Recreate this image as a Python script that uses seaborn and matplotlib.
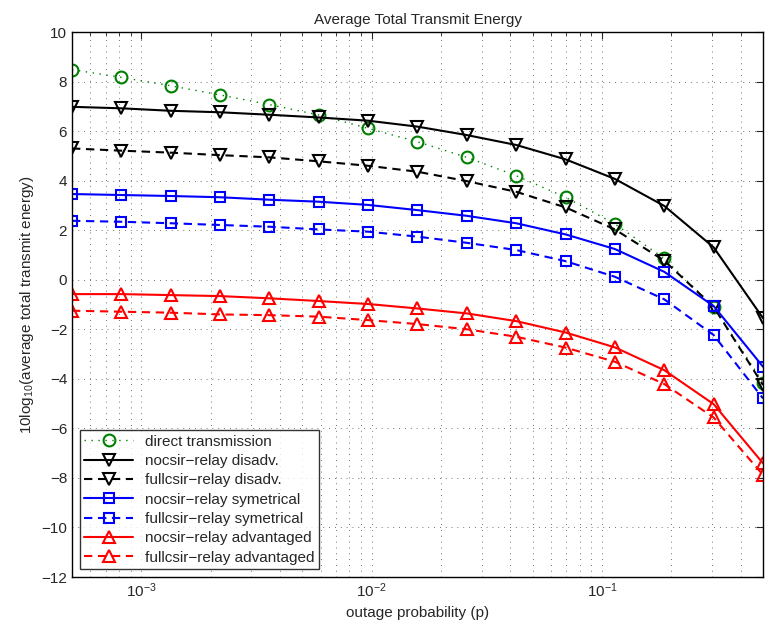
import numpy as np
import pandas as pd
import matplotlib
matplotlib.use("Agg")
import matplotlib.pyplot as plt
import seaborn as sns
from matplotlib.ticker import LogLocator, MultipleLocator, NullFormatter

# outage probabilities (x axis)
p = [0.0005, 0.000819, 0.001341, 0.002197, 0.003598, 0.005893, 0.009652,
     0.015808, 0.02589, 0.04240, 0.06945, 0.11374, 0.18628, 0.30509, 0.5]

# 10log10(average total transmit energy)
direct = [8.48, 8.17, 7.83, 7.46, 7.07, 6.65, 6.11, 5.57, 4.94, 4.20, 3.33, 2.25, 0.86, -1.09, -4.15]
nocsir_dis = [6.98, 6.92, 6.82, 6.76, 6.66, 6.55, 6.42, 6.18, 5.84, 5.44, 4.86, 4.07, 2.98, 1.31, -1.55]
fullcsir_dis = [5.30, 5.21, 5.13, 5.03, 4.94, 4.78, 4.60, 4.36, 3.98, 3.55, 2.92, 2.03, 0.77, -1.09, -4.25]
nocsir_sym = [3.46, 3.42, 3.38, 3.33, 3.23, 3.15, 3.02, 2.81, 2.58, 2.28, 1.83, 1.24, 0.32, -1.06, -3.51]
fullcsir_sym = [2.38, 2.34, 2.28, 2.21, 2.14, 2.03, 1.94, 1.74, 1.49, 1.20, 0.75, 0.12, -0.79, -2.23, -4.79]
nocsir_adv = [-0.58, -0.58, -0.62, -0.66, -0.75, -0.86, -0.98, -1.16, -1.36, -1.67, -2.13, -2.73, -3.65, -5.02, -7.41]
fullcsir_adv = [-1.25, -1.29, -1.33, -1.40, -1.43, -1.49, -1.63, -1.79, -2.00, -2.30, -2.74, -3.31, -4.21, -5.56, -7.88]

dotted = (0, (1, 4))
dashed = (0, (4, 2.7))
series = [
    ("direct transmission", direct, "#008000", dotted, 1.0, "o", 8.5),
    ("nocsir\u2212relay disadv.", nocsir_dis, "black", "-", 1.5, "v", 9),
    ("fullcsir\u2212relay disadv.", fullcsir_dis, "black", dashed, 1.5, "v", 9),
    ("nocsir\u2212relay symetrical", nocsir_sym, "blue", "-", 1.5, "s", 7),
    ("fullcsir\u2212relay symetrical", fullcsir_sym, "blue", dashed, 1.5, "s", 7),
    ("nocsir\u2212relay advantaged", nocsir_adv, "red", "-", 1.5, "^", 9),
    ("fullcsir\u2212relay advantaged", fullcsir_adv, "red", dashed, 1.5, "^", 9),
]

sns.set_style("white")
plt.rcParams["font.family"] = ["Liberation Sans", "DejaVu Sans"]
plt.rcParams["mathtext.fontset"] = "custom"
plt.rcParams["mathtext.rm"] = "Liberation Sans"
plt.rcParams["mathtext.it"] = "Liberation Sans"

fig = plt.figure(figsize=(7.67, 6.24), dpi=100)
ax = fig.add_axes([0.0939, 0.0753, 0.9009, 0.8734])

for label, vals, color, ls, lw, mk, ms in series:
    df = pd.DataFrame({"p": p, "e": vals})
    sns.lineplot(data=df, x="p", y="e", ax=ax, color=color, linestyle=ls,
                 linewidth=lw, marker=mk, markersize=ms, markerfacecolor="none",
                 markeredgecolor=color, markeredgewidth=1.5, label=label)

ax.set_xscale("log")
ax.set_xlim(5e-4, 0.5)
ax.set_ylim(-12, 10)
ax.yaxis.set_major_locator(MultipleLocator(2))
ax.xaxis.set_major_locator(LogLocator(base=10))
ax.xaxis.set_minor_locator(LogLocator(base=10, subs=np.arange(2, 10)))
ax.xaxis.set_minor_formatter(NullFormatter())

grid_ls = (0, (1, 6))
ax.grid(True, which="major", linestyle=grid_ls, color="#444444", linewidth=0.6)
ax.grid(True, which="minor", axis="x", linestyle=grid_ls, color="#444444", linewidth=0.6)
ax.tick_params(which="both", direction="in", top=True, right=True, labelsize=11)
ax.tick_params(which="major", length=5)
ax.tick_params(which="minor", length=3)
for s in ax.spines.values():
    s.set_color("black")
    s.set_linewidth(1.0)

ax.set_title("Average Total Transmit Energy", fontsize=11)
ax.set_xlabel("outage probability (p)", fontsize=11)
ax.set_ylabel("10log$_{10}$(average total transmit energy)", fontsize=11)

leg = ax.legend(loc="lower left", fontsize=11, handlelength=3.2, frameon=True,
                fancybox=False, borderaxespad=0.5, labelspacing=0.35, borderpad=0.3)
leg.get_frame().set_edgecolor("black")
leg.get_frame().set_linewidth(1.0)

fig.savefig("out.png", dpi=100)
